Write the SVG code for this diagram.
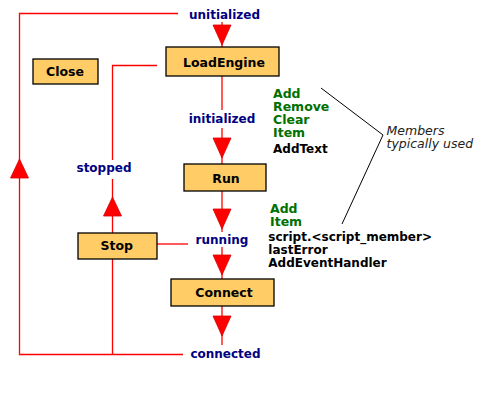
<svg xmlns="http://www.w3.org/2000/svg" width="480" height="400" viewBox="0 0 480 400">
<style>
.bg{fill:#ffffff}
.box{fill:#ffcc66;stroke:#000000;stroke-width:1.3}
.nt{font-family:"DejaVu Sans",Verdana,sans-serif;font-weight:bold;font-size:12.5px;fill:#000000;text-anchor:middle}
.st{font-family:"DejaVu Sans",Verdana,sans-serif;font-weight:bold;font-size:12px;fill:#000080;text-anchor:middle}
.mg{font-family:"DejaVu Sans",Verdana,sans-serif;font-weight:bold;font-size:12.5px;fill:#007000}
.mb{font-family:"DejaVu Sans",Verdana,sans-serif;font-weight:bold;font-size:12px;fill:#000000}
.note{font-family:"DejaVu Sans",Verdana,sans-serif;font-style:italic;font-size:12.5px;fill:#222222}
.ln{fill:none;stroke:#ff0000;stroke-width:1.3}
.ptr{fill:none;stroke:#000000;stroke-width:1}
.ar{fill:#ff0000;stroke:#dd0000;stroke-width:0.8}
</style>
<defs>
<polygon id="down" points="-9,0 9,0 0,20"/>
<polygon id="up" points="-9,0 9,0 0,-19"/>
</defs>
<rect class="bg" x="0" y="0" width="480" height="400"/>
<g id="connectors">
<path class="ln" d="M178,13.5 H19.5 V354.5 H183"/>
<path class="ln" d="M157,65.5 H112.5 V160"/>
<path class="ln" d="M112.5,179 V354.5"/>
<path class="ln" d="M157,244 H188"/>
<path class="ln" d="M222,22 V47"/>
<path class="ln" d="M222,76 V110"/>
<path class="ln" d="M222,128 V164"/>
<path class="ln" d="M222,191 V232"/>
<path class="ln" d="M222,247 V279"/>
<path class="ln" d="M222,306 V345"/>
<use href="#down" class="ar" x="222" y="25"/>
<use href="#down" class="ar" x="222" y="138"/>
<use href="#down" class="ar" x="222" y="209"/>
<use href="#down" class="ar" x="222" y="255"/>
<use href="#down" class="ar" x="222" y="316"/>
<use href="#up" class="ar" x="19.5" y="178"/>
<use href="#up" class="ar" x="112.5" y="216"/>
<path class="ptr" d="M321,88 L383,135 L342,224"/>
</g>
<g id="state-unitialized"><text class="st" x="224.5" y="19">unitialized</text></g>
<g id="state-initialized"><text class="st" x="222" y="122.5">initialized</text></g>
<g id="state-running"><text class="st" x="222" y="244">running</text></g>
<g id="state-connected"><text class="st" x="225.5" y="357.5">connected</text></g>
<g id="state-stopped"><text class="st" x="104" y="172">stopped</text></g>
<g id="node-loadengine"><rect class="box" x="166" y="47" width="113" height="29"/><text class="nt" x="224" y="66.5">LoadEngine</text></g>
<g id="node-close"><rect class="box" x="33" y="59" width="65" height="25"/><text class="nt" x="65" y="76">Close</text></g>
<g id="node-run"><rect class="box" x="184" y="164" width="82" height="27"/><text class="nt" x="226" y="182.5">Run</text></g>
<g id="node-stop"><rect class="box" x="78" y="233" width="79" height="26"/><text class="nt" x="116.7" y="250">Stop</text></g>
<g id="node-connect"><rect class="box" x="171" y="279" width="103" height="27"/><text class="nt" x="224" y="296.7">Connect</text></g>
<g id="members-1">
<text class="mg" x="273" y="98">Add</text>
<text class="mg" x="273" y="111">Remove</text>
<text class="mg" x="273" y="124.3">Clear</text>
<text class="mg" x="273" y="137.3">Item</text>
<text class="mb" x="273" y="153.3">AddText</text>
</g>
<g id="members-2">
<text class="mg" x="270" y="212.7">Add</text>
<text class="mg" x="270" y="225.7">Item</text>
<text class="mb" x="268.3" y="240.7">script.&lt;script_member&gt;</text>
<text class="mb" x="268.3" y="254">lastError</text>
<text class="mb" x="268.3" y="266.7">AddEventHandler</text>
</g>
<g id="note"><text class="note" x="386.5" y="135">Members</text><text class="note" x="386.5" y="147.7">typically used</text></g>
</svg>
